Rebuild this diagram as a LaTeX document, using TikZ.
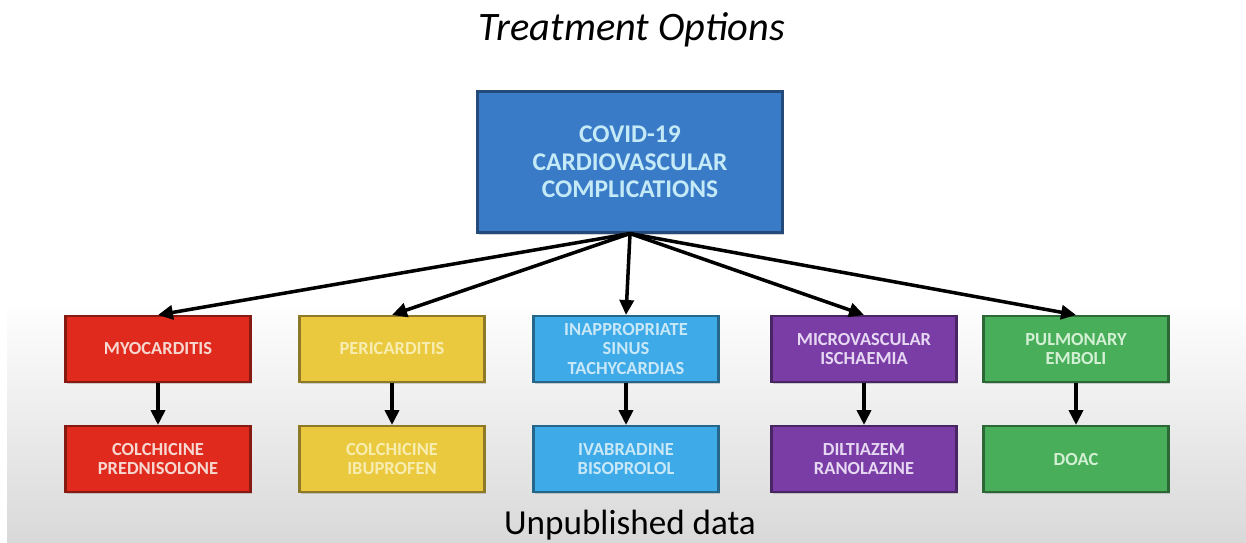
\documentclass[tikz,border=0pt]{standalone}
\usepackage{fontspec}
\setmainfont{Carlito}
\usetikzlibrary{arrows.meta,shadows}

\definecolor{covblue}{HTML}{3A7BC8}
\definecolor{covtext}{HTML}{C5EAF7}
\definecolor{myored}{HTML}{E02A1E}
\definecolor{myotext}{HTML}{F6D8D0}
\definecolor{periyellow}{HTML}{EBC93F}
\definecolor{peritext}{HTML}{F7EDB0}
\definecolor{sinusblue}{HTML}{3EAAE8}
\definecolor{sinustext}{HTML}{C8E8F8}
\definecolor{micropurple}{HTML}{7A3DA6}
\definecolor{microtext}{HTML}{E6D8F2}
\definecolor{pegreen}{HTML}{48AE5A}
\definecolor{petext}{HTML}{D4F0D4}

\tikzset{
  box/.style 2 args={draw=#1!60!black, fill=#1, text=#2, line width=1.2pt,
    minimum width=3.7cm, minimum height=1.32cm, align=center, inner sep=1pt,
    font=\bfseries\fontsize{10.5}{11}\selectfont,
    drop shadow={opacity=.35, shadow xshift=.6pt, shadow yshift=-1.2pt}},
  arrow/.style={-{Triangle[length=8.5pt,width=8pt]}, line width=2pt},
}

\begin{document}
\begin{tikzpicture}[x=0.02cm, y=-0.02cm]

    \useasboundingbox (0,0) rectangle (1246,542);
    \fill[white] (0,0) rectangle (1246,542);
    \shade[top color=white, bottom color=black!15] (7,300) rectangle (1246,542);

    \node (title) at (632,30) {\fontsize{23}{26}\selectfont\itshape Treatment Options};

    \node[box={covblue}{covtext}, minimum width=6.1cm, minimum height=2.82cm,
      font=\bfseries\fontsize{14.5}{15.6}\selectfont] (cov) at (630,162)
      {COVID-19\\CARDIOVASCULAR\\COMPLICATIONS};

    % complications
    \node[box={myored}{myotext}] (myo) at (158,349) {MYOCARDITIS};
    \node[box={periyellow}{peritext}] (peri) at (392,349) {PERICARDITIS};
    \node[box={sinusblue}{sinustext}] (sinus) at (626,349) {INAPPROPRIATE\\SINUS\\TACHYCARDIAS};
    \node[box={micropurple}{microtext}] (micro) at (864,349) {MICROVASCULAR\\ISCHAEMIA};
    \node[box={pegreen}{petext}] (pe) at (1076,349) {PULMONARY\\EMBOLI};

    % treatments
    \node[box={myored}{myotext}] (myotx) at (158,459) {COLCHICINE\\PREDNISOLONE};
    \node[box={periyellow}{peritext}] (peritx) at (392,459) {COLCHICINE\\IBUPROFEN};
    \node[box={sinusblue}{sinustext}] (sinustx) at (626,459) {IVABRADINE\\BISOPROLOL};
    \node[box={micropurple}{microtext}] (microtx) at (864,459) {DILTIAZEM\\RANOLAZINE};
    \node[box={pegreen}{petext}] (petx) at (1076,459) {DOAC};

    \foreach \c in {myo,peri,sinus,micro,pe}{
      \draw[arrow] (cov.south) -- (\c.north);
      \draw[arrow] (\c.south) -- (\c tx.north);
    }

    \node[anchor=base] (note) at (630,534) {\fontsize{20}{24}\selectfont Unpublished data};

\end{tikzpicture}
\end{document}
